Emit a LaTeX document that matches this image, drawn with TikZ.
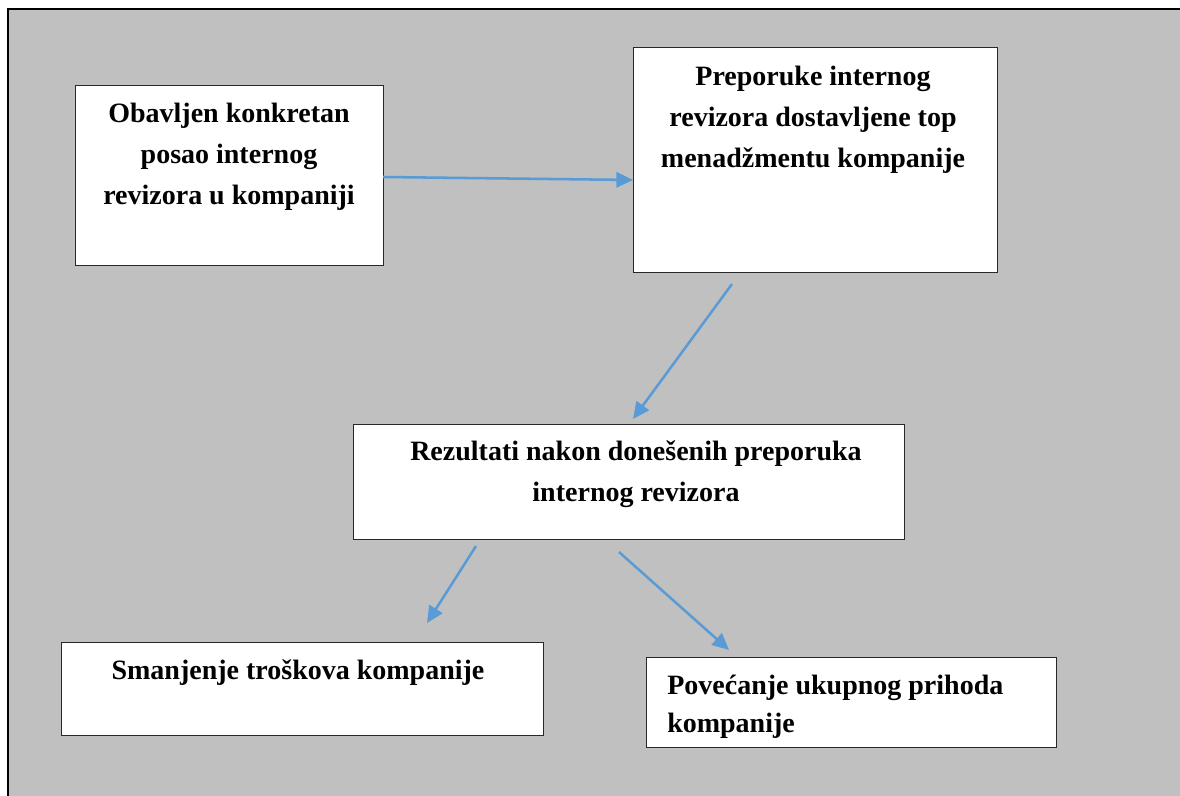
\documentclass[tikz,border=0pt]{standalone}
\usepackage{fontspec}
\setmainfont{Liberation Serif}
\usetikzlibrary{arrows.meta}
\definecolor{panelgray}{RGB}{192,192,192}
\definecolor{flowblue}{RGB}{91,155,213}
\definecolor{boxline}{RGB}{40,40,40}
\tikzset{
  stepbox/.style={draw=boxline, line width=0.95pt, fill=white, inner sep=0pt, anchor=north west},
  boxtext/.style={inner sep=0pt, align=center, font=\fontsize{21}{30.75}\selectfont\bfseries},
  flow/.style={draw=flowblue, line width=1.9pt, -{Triangle[length=12.5pt,width=11.5pt]}},
}
\begin{document}
\begin{tikzpicture}[x=0.75pt,y=-0.75pt]
  % page and grey panel with its black frame on two sides
  \path[use as bounding box] (0,0) rectangle (1180,795);
  \fill[white] (-10,-10) rectangle (1190,805);
  \fill[panelgray] (8,9) rectangle (1190,805);
  \draw[black, line width=1.9pt] (8,805) -- (8,9) -- (1190,9);

  % boxes
  \node[stepbox, minimum width=231pt, minimum height=135pt] (work) at (75,85) {};
  \node[stepbox, minimum width=273pt, minimum height=168.75pt] (recs) at (633,47) {};
  \node[stepbox, minimum width=413.25pt, minimum height=86.25pt] (results) at (353,424) {};
  \node[stepbox, minimum width=361.5pt, minimum height=69.75pt] (costs) at (61,642) {};
  \node[stepbox, minimum width=307.5pt, minimum height=67.5pt] (income) at (646,657) {};

  % box texts
  \node[boxtext, anchor=north] (work-t) at (229,103) {Obavljen konkretan\\posao internog\\revizora u kompaniji};
  \node[boxtext, anchor=north] (recs-t) at (813,66) {Preporuke internog\\revizora dostavljene top\\menadžmentu kompanije};
  \node[boxtext, anchor=north] (results-t) at (636,440) {Rezultati nakon donešenih preporuka\\internog revizora};
  \node[boxtext, anchor=north] (costs-t) at (298,659) {Smanjenje troškova kompanije};
  \node[boxtext, anchor=north west, align=left, font=\fontsize{21}{28.5}\selectfont\bfseries] (income-t) at (667,675) {Povećanje ukupnog prihoda\\kompanije};

  % arrow end points
  \coordinate (a1s) at (383,177);
  \coordinate (a1e) at (633,180);
  \coordinate (a2s) at (732,284);
  \coordinate (a2e) at (633,419);
  \coordinate (a3s) at (476,546);
  \coordinate (a3e) at (427,623);
  \coordinate (a4s) at (619,552);
  \coordinate (a4e) at (729,650);

  \draw[flow] (a1s) -- (a1e);
  \draw[flow] (a2s) -- (a2e);
  \draw[flow] (a3s) -- (a3e);
  \draw[flow] (a4s) -- (a4e);
\end{tikzpicture}
\end{document}
